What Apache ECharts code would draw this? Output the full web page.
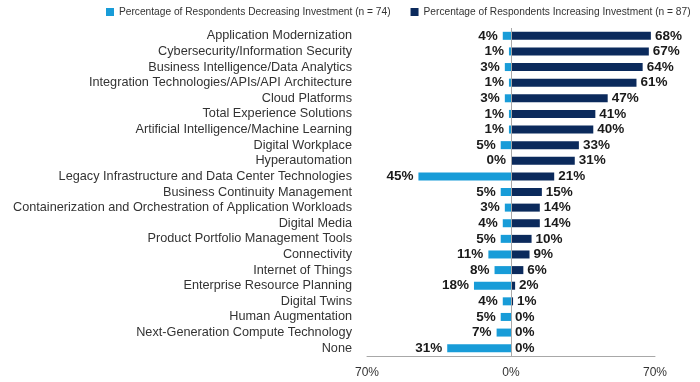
<!DOCTYPE html>
<html><head><meta charset="utf-8">
<script src="https://cdn.jsdelivr.net/npm/echarts@6/dist/echarts.min.js"></script>
<style>html,body{margin:0;padding:0;background:#fff}#c{width:700px;height:382px}</style>
</head><body><div id="c"></div>
<script>
const categories = ["Application Modernization","Cybersecurity/Information Security","Business Intelligence/Data Analytics","Integration Technologies/APIs/API Architecture","Cloud Platforms","Total Experience Solutions","Artificial Intelligence/Machine Learning","Digital Workplace","Hyperautomation","Legacy Infrastructure and Data Center Technologies","Business Continuity Management","Containerization and Orchestration of Application Workloads","Digital Media","Product Portfolio Management Tools","Connectivity","Internet of Things","Enterprise Resource Planning","Digital Twins","Human Augmentation","Next-Generation Compute Technology","None"];
const decreasing = [4,1,3,1,3,1,1,5,0,45,5,3,4,5,11,8,18,4,5,7,31];
const increasing = [68,67,64,61,47,41,40,33,31,21,15,14,14,10,9,6,2,1,0,0,0];
const xTicks = [-70, 0, 70];
const seriesNames = ["Percentage of Respondents Decreasing Investment (n = 74)","Percentage of Respondents Increasing Investment (n = 87)"];

const chart = echarts.init(document.getElementById('c'));
const font = "Liberation Sans, Arial, sans-serif";
chart.setOption({
  animation: false,
  legend: {
    left: 106, top: 7, width: 594, orient: 'horizontal', padding: 0,
    itemWidth: 8, itemHeight: 8, itemGap: 20, icon: 'rect',
    textStyle: {fontSize: 10.2, color: '#333', fontFamily: font},
    data: seriesNames
  },
  grid: {left: 367, right: 45, top: 28, bottom: 26},
  xAxis: {
    type: 'value', min: xTicks[0], max: xTicks[2], interval: 70,
    axisLine: {show: true, lineStyle: {color: '#a8a8a8', width: 1}},
    axisTick: {show: false}, splitLine: {show: false},
    axisLabel: {formatter: v => Math.abs(v) + '%', fontSize: 12, color: '#333', fontFamily: font, margin: 11}
  },
  yAxis: {
    type: 'category', data: categories, inverse: true,
    axisLine: {show: false, onZero: false}, axisTick: {show: false},
    axisLabel: {interval: 0, fontSize: 12.7, color: '#333', fontFamily: font, margin: 15}
  },
  series: [
    {
      name: seriesNames[0], type: 'bar', barWidth: 8, barGap: '-100%',
      data: decreasing.map(v => -v),
      itemStyle: {color: '#189cd8'},
      label: {show: true, position: 'left', distance: 5, formatter: p => Math.abs(p.value) + '%',
        fontSize: 13.5, fontWeight: 'bold', color: '#1a1a1a', fontFamily: font},
      markLine: {silent: true, symbol: 'none', label: {show: false},
        lineStyle: {color: '#a8a8a8', type: 'solid', width: 1},
        data: [{xAxis: 0}]}
    },
    {
      name: seriesNames[1], type: 'bar', barWidth: 8, barGap: '-100%',
      data: increasing,
      itemStyle: {color: '#0b2a5c'},
      label: {show: true, position: 'right', distance: 4, formatter: p => p.value + '%',
        fontSize: 13.5, fontWeight: 'bold', color: '#1a1a1a', fontFamily: font}
    }
  ]
});
</script></body></html>
